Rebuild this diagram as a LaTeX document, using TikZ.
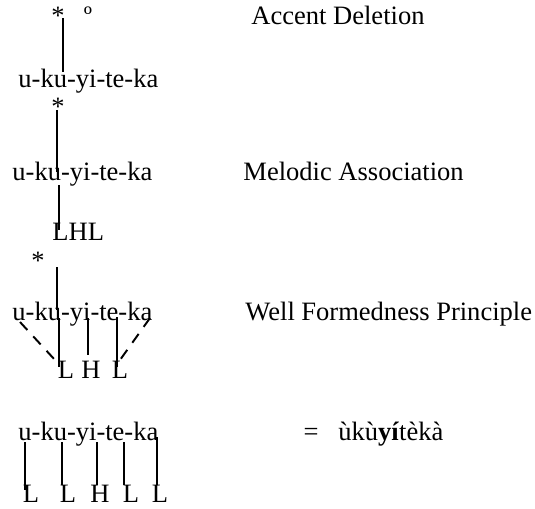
\documentclass[tikz,border=0pt]{standalone}
\usepackage{fontspec}
\setmainfont{Liberation Serif}

\tikzset{
  every node/.style={inner sep=0pt, font=\fontsize{12.2}{14}\selectfont},
  txt/.style={anchor=base west},
  tone/.style={anchor=base},
  assoc/.style={line width=0.9pt},
  spread/.style={line width=0.9pt, dash pattern=on 5pt off 4pt}
}

\begin{document}
\begin{tikzpicture}[x=0.46pt,y=-0.46pt]
        \useasboundingbox (0,0) rectangle (535,508);

        % accent deletion
        \node[tone] (astA) at (58,25) {*};
        \node[tone] (degA) at (88,25) {º};
        \node[txt] (sylA) at (18,87) {u-ku-yi-te-ka};
        \node[txt] (labA) at (251,25) {Accent Deletion};
        \coordinate (a1) at (63,18);
        \coordinate (a2) at (63,72);
        \draw[assoc] (a1) -- (a2);

        % melodic association
        \node[tone] (astB) at (58,115) {*};
        \node[txt] (sylB) at (12,180) {u-ku-yi-te-ka};
        \node[txt] (labB) at (243,180) {Melodic Association};
        \node[txt] (lhlB) at (52,240) {LHL};
        \coordinate (b1) at (57,110);
        \coordinate (b2) at (57,172);
        \coordinate (b3) at (59,185);
        \coordinate (b4) at (59,230);
        \draw[assoc] (b1) -- (b2);
        \draw[assoc] (b3) -- (b4);

        % well formedness
        \node[tone] (astC) at (38,269) {*};
        \node[txt] (sylC) at (12,320) {u-ku-yi-te-ka};
        \node[txt] (labC) at (245,320) {Well Formedness Principle};
        \node[tone] (lC1) at (66,378) {L};
        \node[tone] (hC) at (91,378) {H};
        \node[tone] (lC2) at (120,378) {L};
        \coordinate (c1) at (57,267);
        \coordinate (c2) at (57,310);
        \draw[assoc] (c1) -- (c2);
        \draw[assoc] (59,318) -- (59,367);
        \draw[assoc] (88,318) -- (88,355);
        \draw[assoc] (117,317) -- (117,367);
        \draw[spread] (20,322) -- (55,360);
        \draw[spread] (150,318) -- (120,360);

        % surface form
        \node[txt] (sylD) at (18,440) {u-ku-yi-te-ka};
        \node[tone] (eq) at (311,440) {=};
        \node[txt] (outD) at (338,440) {ùkù\textbf{yí}tèkà};
        \foreach \x/\t [count=\i] in {31/L,68/L,100/H,131/L,160/L}
          \node[tone] (tD\i) at (\x,502) {\t};
        \draw[assoc] (25,442) -- (25,490);
        \draw[assoc] (62,442) -- (62,485);
        \draw[assoc] (97,442) -- (97,485);
        \draw[assoc] (124,442) -- (124,485);
        \draw[assoc] (157,437) -- (157,485);
    \end{tikzpicture}
\end{document}
